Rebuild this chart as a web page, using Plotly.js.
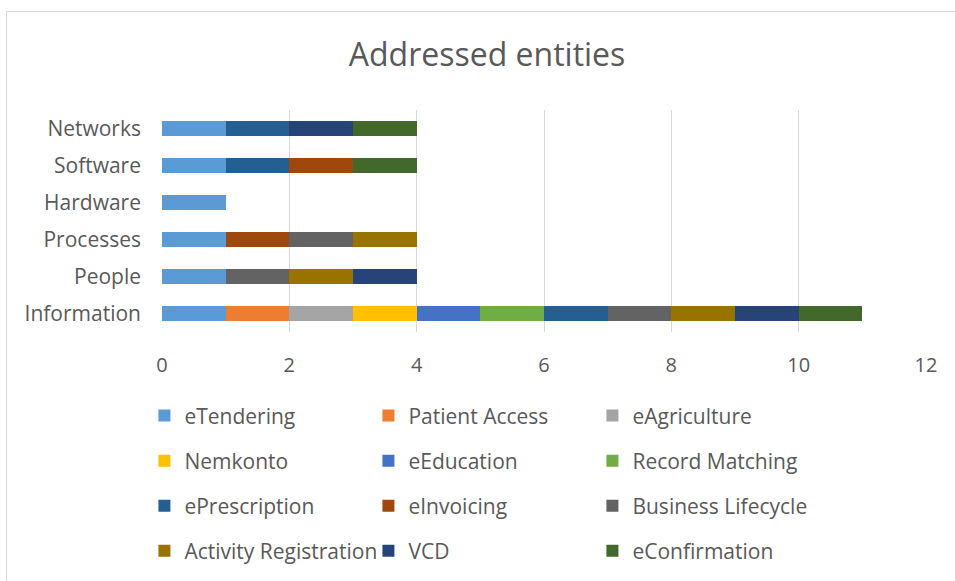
<!DOCTYPE html>
<html>
<head>
<meta charset="utf-8">
<script src="https://cdn.plot.ly/plotly-3.0.1.min.js"></script>
<style>
    body { margin: 0; background: #ffffff; }
    #chart { width: 955px; height: 581px; }
    #frame {
        position: absolute; left: 6px; top: 11px;
        width: 960px; height: 600px;
        border: 1px solid #d9d9d9; pointer-events: none;
    }
</style>
</head>
<body>
<div id="chart"></div>
<div id="frame"></div>
<script>
// categories from bottom to top
var categories = ['Information', 'People', 'Processes', 'Hardware', 'Software', 'Networks'];

var eTendering = [1, 1, 1, 1, 1, 1];
var patientAccess = [1, 0, 0, 0, 0, 0];
var eAgriculture = [1, 0, 0, 0, 0, 0];
var nemkonto = [1, 0, 0, 0, 0, 0];
var eEducation = [1, 0, 0, 0, 0, 0];
var recordMatching = [1, 0, 0, 0, 0, 0];
var ePrescription = [1, 0, 0, 0, 1, 1];
var eInvoicing = [0, 0, 1, 0, 1, 0];
var businessLifecycle = [1, 1, 1, 0, 0, 0];
var activityRegistration = [1, 1, 1, 0, 0, 0];
var vcd = [1, 1, 0, 0, 0, 1];
var eConfirmation = [1, 0, 0, 0, 1, 1];

var seriesNames = ['eTendering', 'Patient Access', 'eAgriculture', 'Nemkonto', 'eEducation',
    'Record Matching', 'ePrescription', 'eInvoicing', 'Business Lifecycle',
    'Activity Registration', 'VCD', 'eConfirmation'];
var seriesValues = [eTendering, patientAccess, eAgriculture, nemkonto, eEducation,
    recordMatching, ePrescription, eInvoicing, businessLifecycle,
    activityRegistration, vcd, eConfirmation];
var seriesColors = ['#5b9bd5', '#ed7d31', '#a5a5a5', '#ffc000', '#4472c4', '#70ad47',
    '#255e91', '#9e480e', '#636363', '#997300', '#264478', '#43682b'];

var xTicks = [0, 2, 4, 6, 8, 10, 12];

var font = 'Open Sans, sans-serif';
var textColor = '#595959';

window.onload = function() {
    var data = [];
    for (let i = 0; i < seriesNames.length; i++) {
        let legendId = 'legend';
        let row = Math.floor(i / 3);
        if (row > 0) {
            legendId = 'legend' + (row + 1);
        }
        data.push({
            type: 'bar',
            orientation: 'h',
            name: seriesNames[i],
            x: seriesValues[i],
            y: categories,
            marker: {color: seriesColors[i]},
            legend: legendId,
            hoverinfo: 'name+x'
        });
    }

    // one legend per row so the rows can be spaced like the original
    var rowY = [-0.372, -0.574, -0.776, -0.978];
    function legendFor(r) {
        return {
            orientation: 'h',
            x: -0.023,
            xanchor: 'left',
            y: rowY[r],
            yanchor: 'middle',
            entrywidth: 179,
            entrywidthmode: 'pixels',
            traceorder: 'normal',
            font: {family: font, size: 21, color: textColor},
            bgcolor: 'rgba(0,0,0,0)'
        };
    }

    var layout = {
        width: 955,
        height: 581,
        margin: {l: 162, r: 29, t: 110, b: 248},
        paper_bgcolor: 'rgba(0,0,0,0)',
        plot_bgcolor: 'rgba(0,0,0,0)',
        barmode: 'stack',
        bargap: 0.6,
        title: {
            text: 'Addressed entities',
            font: {family: font, size: 32, color: textColor},
            x: 0.51,
            xanchor: 'center',
            y: 0.905,
            yanchor: 'middle'
        },
        xaxis: {
            range: [0, 12],
            tickvals: xTicks,
            showgrid: true,
            gridcolor: '#d9d9d9',
            gridwidth: 1,
            zeroline: false,
            showline: false,
            ticks: '',
            ticklabelstandoff: 19,
            tickfont: {family: font, size: 20, color: textColor}
        },
        yaxis: {
            type: 'category',
            categoryorder: 'array',
            categoryarray: categories,
            showgrid: false,
            zeroline: false,
            showline: false,
            ticks: '',
            ticklabelstandoff: 20,
            tickfont: {family: font, size: 21, color: textColor}
        },
        showlegend: true,
        legend: legendFor(0),
        legend2: legendFor(1),
        legend3: legendFor(2),
        legend4: legendFor(3)
    };

    Plotly.newPlot('chart', data, layout, {displayModeBar: false, staticPlot: true});
};
</script>
</body>
</html>
